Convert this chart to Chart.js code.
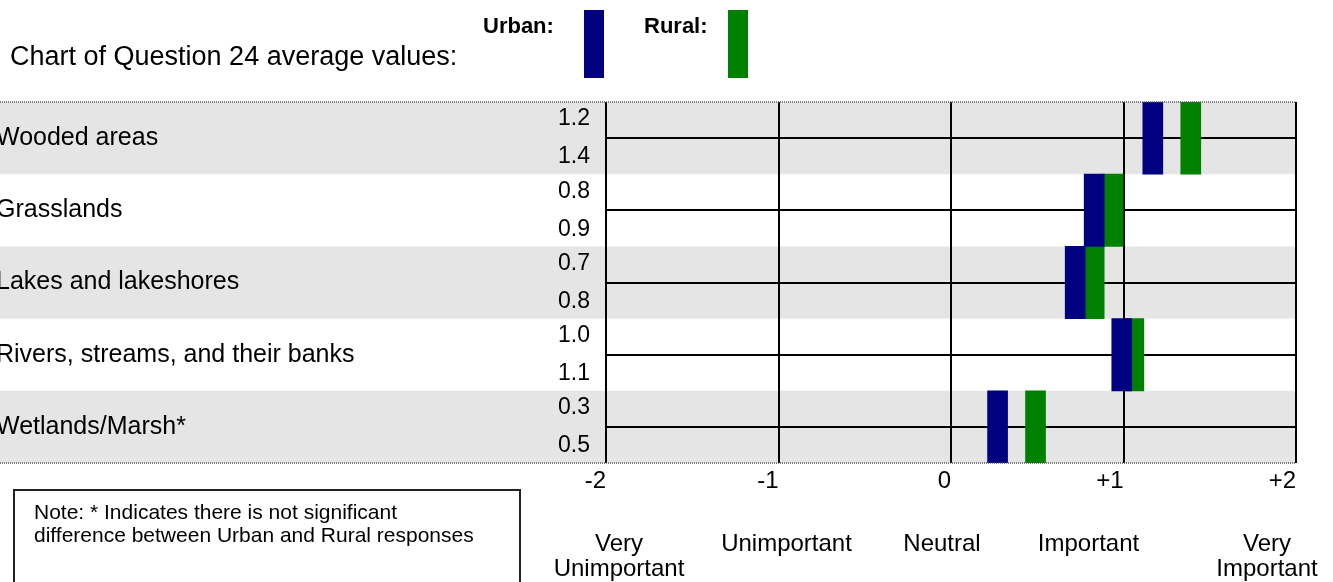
<!DOCTYPE html>
<html>
<head>
<meta charset="utf-8">
<title>Question 24 average values</title>
<script src="https://cdn.jsdelivr.net/npm/chart.js@4.4.1/dist/chart.umd.min.js"></script>
<style>
  html, body { margin: 0; padding: 0; background: #fff; overflow: hidden; }
  /* shifted a few px left: the row names are clipped at the left edge in the original */
  #wrap { position: absolute; left: -4px; top: 0; width: 1337px; height: 582px; }
</style>
</head>
<body>
<div id="wrap"><canvas id="chart"></canvas></div>
<script>
// data
const categories = ['Wooded areas', 'Grasslands', 'Lakes and lakeshores', 'Rivers, streams, and their banks', 'Wetlands/Marsh*'];
const urbanValues = [1.17, 0.83, 0.72, 0.99, 0.27];
const ruralValues = [1.39, 0.94, 0.83, 1.06, 0.49];
const urbanLabels = ['1.2', '0.8', '0.7', '1.0', '0.3'];
const ruralLabels = ['1.4', '0.9', '0.8', '1.1', '0.5'];
const xTickValues = [-2, -1, 0, 1, 2];
const xTickLabels = ['-2', '-1', '0', '+1', '+2'];
const scaleLabels = [['Very', 'Unimportant'], ['Unimportant'], ['Neutral'], ['Important'], ['Very', 'Important']];
const seriesNames = ['Urban:', 'Rural:'];
const titleText = 'Chart of Question 24 average values:';
const noteLines = ['Note: * Indicates there is not significant', 'difference between Urban and Rural responses'];

const FONT = '"Liberation Sans", Arial, sans-serif';
const OFF = 4;          // canvas offset to the left (px)
const BAR_HALF = 0.058; // half bar width in axis units (~10px)

const decor = {
  id: 'decor',
  beforeDraw(chart) {
    const { ctx, chartArea, scales: { y } } = chart;
    const band = (chartArea.bottom - chartArea.top) / categories.length;
    ctx.save();
    ctx.fillStyle = '#e5e5e5';
    categories.forEach((c, i) => {
      if (i % 2) return;
      const yc = y.getPixelForValue(i);
      ctx.fillRect(0, yc - band / 2, chartArea.right, band);
    });
    ctx.restore();
  },
  afterDraw(chart) {
    const { ctx, chartArea, scales: { x } } = chart;
    ctx.save();

    // dotted frame top / bottom
    ctx.strokeStyle = '#555';
    ctx.lineWidth = 1.5;
    ctx.setLineDash([1, 1]);
    [chartArea.top, chartArea.bottom].forEach(yy => {
      ctx.beginPath();
      ctx.moveTo(OFF, yy);
      ctx.lineTo(chartArea.right, yy);
      ctx.stroke();
    });
    ctx.setLineDash([]);

    // title
    ctx.fillStyle = '#000';
    ctx.textBaseline = 'alphabetic';
    ctx.textAlign = 'left';
    ctx.font = '27px ' + FONT;
    ctx.fillText(titleText, 10 + OFF, 65);

    // legend: label then a tall colour bar
    const textX = [483, 644], boxX = [584, 728];
    ctx.font = 'bold 22px ' + FONT;
    chart.data.datasets.forEach((ds, i) => {
      ctx.fillStyle = '#000';
      ctx.fillText(seriesNames[i], textX[i] + OFF, 33);
      ctx.fillStyle = ds.backgroundColor;
      ctx.fillRect(boxX[i] + OFF, 10, 20, 68);
    });

    // descriptions under the scale
    const descShift = [13, 8, -9, -35, -29];
    ctx.fillStyle = '#000';
    ctx.textAlign = 'center';
    ctx.textBaseline = 'middle';
    ctx.font = '24px ' + FONT;
    scaleLabels.forEach((lines, i) => {
      const cx = x.getPixelForValue(xTickValues[i]) + descShift[i];
      lines.forEach((t, j) => ctx.fillText(t, cx, 544 + j * 25));
    });

    // note box
    ctx.strokeStyle = '#222';
    ctx.lineWidth = 2;
    ctx.strokeRect(14 + OFF, 490, 506, 120);
    ctx.textAlign = 'left';
    ctx.textBaseline = 'alphabetic';
    ctx.font = '21px ' + FONT;
    noteLines.forEach((t, j) => ctx.fillText(t, 34 + OFF, 519 + j * 23));

    ctx.restore();
  }
};

new Chart(document.getElementById('chart'), {
  type: 'bar',
  data: {
    labels: categories,
    datasets: [
      {
        label: 'Urban',
        data: urbanValues.map(v => [v - BAR_HALF, v + BAR_HALF]),
        backgroundColor: '#000080'
      },
      {
        label: 'Rural',
        data: ruralValues.map(v => [v - BAR_HALF, v + BAR_HALF]),
        backgroundColor: '#008000'
      }
    ]
  },
  options: {
    indexAxis: 'y',
    responsive: true,
    maintainAspectRatio: false,
    animation: false,
    layout: { padding: { left: 0, right: 37, top: 102, bottom: 79 } },
    datasets: {
      bar: { grouped: false, barPercentage: 1, categoryPercentage: 1, borderWidth: 0 }
    },
    plugins: {
      legend: { display: false },
      tooltip: { enabled: false },
      title: { display: false }
    },
    scales: {
      y: {
        type: 'category',
        position: 'left',
        weight: 2,
        offset: true,
        grid: { offset: false, color: '#000', lineWidth: 2, drawTicks: false },
        border: { display: false },
        ticks: { crossAlign: 'far', color: '#000', autoSkip: false, font: { family: FONT, size: 25 } },
        afterFit(s) { s.width = 540; }
      },
      y2: {
        type: 'category',
        position: 'left',
        weight: 1,
        offset: true,
        labels: urbanLabels.map((u, i) => [u, ruralLabels[i]]),
        grid: { display: false },
        border: { display: false },
        ticks: { color: '#000', padding: 8, autoSkip: false, font: { family: FONT, size: 23, lineHeight: 38 / 23 } },
        afterFit(s) { s.width = 70; }
      },
      x: {
        type: 'linear',
        position: 'bottom',
        min: -2,
        max: 2,
        grid: { color: '#000', lineWidth: 2, drawTicks: false },
        border: { display: false },
        ticks: {
          stepSize: 1,
          align: 'end',
          padding: 4,
          color: '#000',
          font: { family: FONT, size: 24 },
          callback: v => xTickLabels[xTickValues.indexOf(v)]
        },
        afterFit(s) { s.height = 40; }
      }
    }
  },
  plugins: [decor]
});
</script>
</body>
</html>
